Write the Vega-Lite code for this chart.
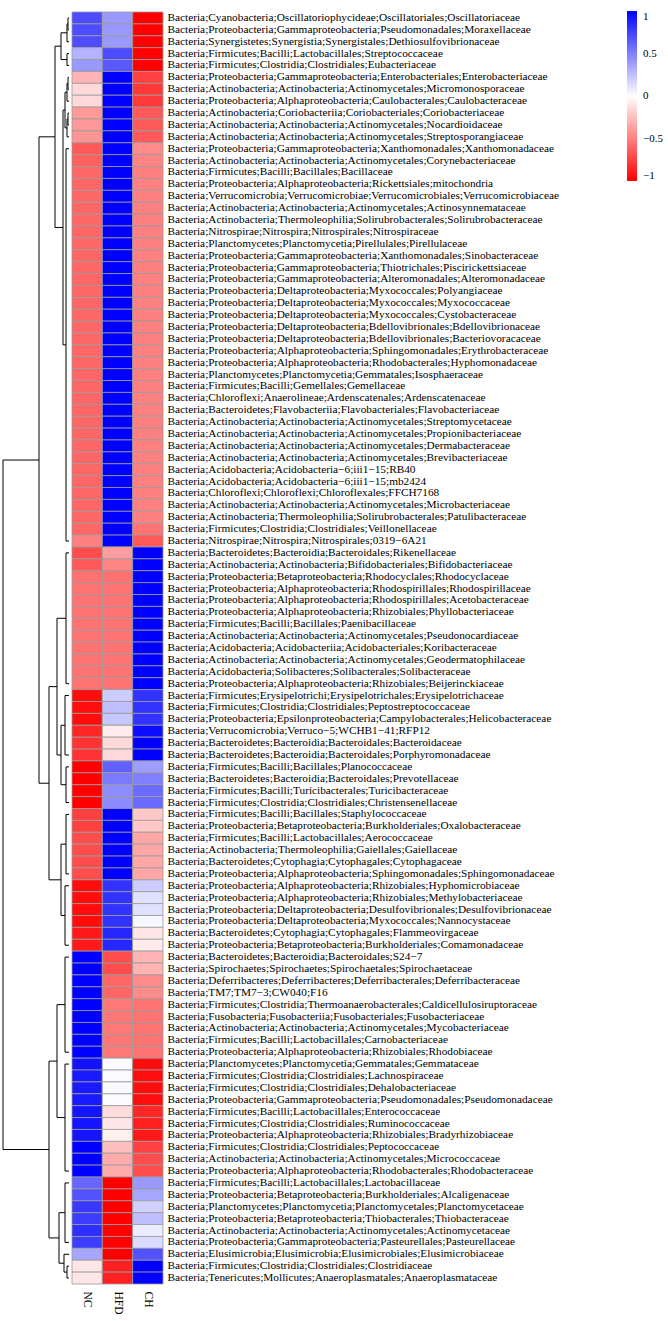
{
  "$schema": "https://vega.github.io/schema/vega-lite/v6.json",
  "padding": {"top": 11, "left": 2, "right": 0, "bottom": 0},
  "spacing": 1,
  "config": {"view": {"stroke": null}},
  "datasets": {
    "cells": [
      {"t": "Bacteria;Cyanobacteria;Oscillatoriophycideae;Oscillatoriales;Oscillatoriaceae", "NC": 0.7, "HFD": 0.4, "CH": -1},
      {"t": "Bacteria;Proteobacteria;Gammaproteobacteria;Pseudomonadales;Moraxellaceae", "NC": 0.7, "HFD": 0.4, "CH": -1},
      {"t": "Bacteria;Synergistetes;Synergistia;Synergistales;Dethiosulfovibrionaceae", "NC": 0.7, "HFD": 0.4, "CH": -1},
      {"t": "Bacteria;Firmicutes;Bacilli;Lactobacillales;Streptococcaceae", "NC": 0.3, "HFD": 0.7, "CH": -1},
      {"t": "Bacteria;Firmicutes;Clostridia;Clostridiales;Eubacteriaceae", "NC": 0.4, "HFD": 0.65, "CH": -1},
      {"t": "Bacteria;Proteobacteria;Gammaproteobacteria;Enterobacteriales;Enterobacteriaceae", "NC": -0.3, "HFD": 1, "CH": -0.75},
      {"t": "Bacteria;Actinobacteria;Actinobacteria;Actinomycetales;Micromonosporaceae", "NC": -0.15, "HFD": 1, "CH": -0.78},
      {"t": "Bacteria;Proteobacteria;Alphaproteobacteria;Caulobacterales;Caulobacteraceae", "NC": -0.15, "HFD": 1, "CH": -0.78},
      {"t": "Bacteria;Actinobacteria;Coriobacteriia;Coriobacteriales;Coriobacteriaceae", "NC": -0.4, "HFD": 1, "CH": -0.65},
      {"t": "Bacteria;Actinobacteria;Actinobacteria;Actinomycetales;Nocardioidaceae", "NC": -0.4, "HFD": 1, "CH": -0.65},
      {"t": "Bacteria;Actinobacteria;Actinobacteria;Actinomycetales;Streptosporangiaceae", "NC": -0.42, "HFD": 1, "CH": -0.65},
      {"t": "Bacteria;Proteobacteria;Gammaproteobacteria;Xanthomonadales;Xanthomonadaceae", "NC": -0.65, "HFD": 1, "CH": -0.45},
      {"t": "Bacteria;Actinobacteria;Actinobacteria;Actinomycetales;Corynebacteriaceae", "NC": -0.62, "HFD": 1, "CH": -0.48},
      {"t": "Bacteria;Firmicutes;Bacilli;Bacillales;Bacillaceae", "NC": -0.6, "HFD": 1, "CH": -0.5},
      {"t": "Bacteria;Proteobacteria;Alphaproteobacteria;Rickettsiales;mitochondria", "NC": -0.6, "HFD": 1, "CH": -0.5},
      {"t": "Bacteria;Verrucomicrobia;Verrucomicrobiae;Verrucomicrobiales;Verrucomicrobiaceae", "NC": -0.6, "HFD": 1, "CH": -0.5},
      {"t": "Bacteria;Actinobacteria;Actinobacteria;Actinomycetales;Actinosynnemataceae", "NC": -0.6, "HFD": 1, "CH": -0.5},
      {"t": "Bacteria;Actinobacteria;Thermoleophilia;Solirubrobacterales;Solirubrobacteraceae", "NC": -0.6, "HFD": 1, "CH": -0.5},
      {"t": "Bacteria;Nitrospirae;Nitrospira;Nitrospirales;Nitrospiraceae", "NC": -0.6, "HFD": 1, "CH": -0.5},
      {"t": "Bacteria;Planctomycetes;Planctomycetia;Pirellulales;Pirellulaceae", "NC": -0.6, "HFD": 1, "CH": -0.5},
      {"t": "Bacteria;Proteobacteria;Gammaproteobacteria;Xanthomonadales;Sinobacteraceae", "NC": -0.6, "HFD": 1, "CH": -0.5},
      {"t": "Bacteria;Proteobacteria;Gammaproteobacteria;Thiotrichales;Piscirickettsiaceae", "NC": -0.6, "HFD": 1, "CH": -0.5},
      {"t": "Bacteria;Proteobacteria;Gammaproteobacteria;Alteromonadales;Alteromonadaceae", "NC": -0.6, "HFD": 1, "CH": -0.5},
      {"t": "Bacteria;Proteobacteria;Deltaproteobacteria;Myxococcales;Polyangiaceae", "NC": -0.6, "HFD": 1, "CH": -0.5},
      {"t": "Bacteria;Proteobacteria;Deltaproteobacteria;Myxococcales;Myxococcaceae", "NC": -0.6, "HFD": 1, "CH": -0.5},
      {"t": "Bacteria;Proteobacteria;Deltaproteobacteria;Myxococcales;Cystobacteraceae", "NC": -0.6, "HFD": 1, "CH": -0.5},
      {"t": "Bacteria;Proteobacteria;Deltaproteobacteria;Bdellovibrionales;Bdellovibrionaceae", "NC": -0.6, "HFD": 1, "CH": -0.5},
      {"t": "Bacteria;Proteobacteria;Deltaproteobacteria;Bdellovibrionales;Bacteriovoracaceae", "NC": -0.6, "HFD": 1, "CH": -0.5},
      {"t": "Bacteria;Proteobacteria;Alphaproteobacteria;Sphingomonadales;Erythrobacteraceae", "NC": -0.6, "HFD": 1, "CH": -0.5},
      {"t": "Bacteria;Proteobacteria;Alphaproteobacteria;Rhodobacterales;Hyphomonadaceae", "NC": -0.6, "HFD": 1, "CH": -0.5},
      {"t": "Bacteria;Planctomycetes;Planctomycetia;Gemmatales;Isosphaeraceae", "NC": -0.6, "HFD": 1, "CH": -0.5},
      {"t": "Bacteria;Firmicutes;Bacilli;Gemellales;Gemellaceae", "NC": -0.6, "HFD": 1, "CH": -0.5},
      {"t": "Bacteria;Chloroflexi;Anaerolineae;Ardenscatenales;Ardenscatenaceae", "NC": -0.6, "HFD": 1, "CH": -0.5},
      {"t": "Bacteria;Bacteroidetes;Flavobacteriia;Flavobacteriales;Flavobacteriaceae", "NC": -0.6, "HFD": 1, "CH": -0.5},
      {"t": "Bacteria;Actinobacteria;Actinobacteria;Actinomycetales;Streptomycetaceae", "NC": -0.6, "HFD": 1, "CH": -0.5},
      {"t": "Bacteria;Actinobacteria;Actinobacteria;Actinomycetales;Propionibacteriaceae", "NC": -0.6, "HFD": 1, "CH": -0.5},
      {"t": "Bacteria;Actinobacteria;Actinobacteria;Actinomycetales;Dermabacteraceae", "NC": -0.6, "HFD": 1, "CH": -0.5},
      {"t": "Bacteria;Actinobacteria;Actinobacteria;Actinomycetales;Brevibacteriaceae", "NC": -0.6, "HFD": 1, "CH": -0.5},
      {"t": "Bacteria;Acidobacteria;Acidobacteria−6;iii1−15;RB40", "NC": -0.6, "HFD": 1, "CH": -0.5},
      {"t": "Bacteria;Acidobacteria;Acidobacteria−6;iii1−15;mb2424", "NC": -0.6, "HFD": 1, "CH": -0.5},
      {"t": "Bacteria;Chloroflexi;Chloroflexi;Chloroflexales;FFCH7168", "NC": -0.6, "HFD": 1, "CH": -0.5},
      {"t": "Bacteria;Actinobacteria;Actinobacteria;Actinomycetales;Microbacteriaceae", "NC": -0.6, "HFD": 1, "CH": -0.5},
      {"t": "Bacteria;Actinobacteria;Thermoleophilia;Solirubrobacterales;Patulibacteraceae", "NC": -0.6, "HFD": 1, "CH": -0.5},
      {"t": "Bacteria;Firmicutes;Clostridia;Clostridiales;Veillonellaceae", "NC": -0.6, "HFD": 1, "CH": -0.55},
      {"t": "Bacteria;Nitrospirae;Nitrospira;Nitrospirales;0319−6A21", "NC": -0.5, "HFD": 1, "CH": -0.65},
      {"t": "Bacteria;Bacteroidetes;Bacteroidia;Bacteroidales;Rikenellaceae", "NC": -0.7, "HFD": -0.38, "CH": 1},
      {"t": "Bacteria;Actinobacteria;Actinobacteria;Bifidobacteriales;Bifidobacteriaceae", "NC": -0.65, "HFD": -0.48, "CH": 1},
      {"t": "Bacteria;Proteobacteria;Betaproteobacteria;Rhodocyclales;Rhodocyclaceae", "NC": -0.56, "HFD": -0.56, "CH": 1},
      {"t": "Bacteria;Proteobacteria;Alphaproteobacteria;Rhodospirillales;Rhodospirillaceae", "NC": -0.55, "HFD": -0.55, "CH": 1},
      {"t": "Bacteria;Proteobacteria;Alphaproteobacteria;Rhodospirillales;Acetobacteraceae", "NC": -0.55, "HFD": -0.55, "CH": 1},
      {"t": "Bacteria;Proteobacteria;Alphaproteobacteria;Rhizobiales;Phyllobacteriaceae", "NC": -0.55, "HFD": -0.55, "CH": 1},
      {"t": "Bacteria;Firmicutes;Bacilli;Bacillales;Paenibacillaceae", "NC": -0.55, "HFD": -0.55, "CH": 1},
      {"t": "Bacteria;Actinobacteria;Actinobacteria;Actinomycetales;Pseudonocardiaceae", "NC": -0.55, "HFD": -0.55, "CH": 1},
      {"t": "Bacteria;Acidobacteria;Acidobacteriia;Acidobacteriales;Koribacteraceae", "NC": -0.55, "HFD": -0.55, "CH": 1},
      {"t": "Bacteria;Actinobacteria;Actinobacteria;Actinomycetales;Geodermatophilaceae", "NC": -0.55, "HFD": -0.55, "CH": 1},
      {"t": "Bacteria;Acidobacteria;Solibacteres;Solibacterales;Solibacteraceae", "NC": -0.55, "HFD": -0.55, "CH": 1},
      {"t": "Bacteria;Proteobacteria;Alphaproteobacteria;Rhizobiales;Beijerinckiaceae", "NC": -0.55, "HFD": -0.55, "CH": 1},
      {"t": "Bacteria;Firmicutes;Erysipelotrichi;Erysipelotrichales;Erysipelotrichaceae", "NC": -0.95, "HFD": 0.2, "CH": 0.8},
      {"t": "Bacteria;Firmicutes;Clostridia;Clostridiales;Peptostreptococcaceae", "NC": -0.95, "HFD": 0.25, "CH": 0.8},
      {"t": "Bacteria;Proteobacteria;Epsilonproteobacteria;Campylobacterales;Helicobacteraceae", "NC": -0.95, "HFD": 0.22, "CH": 0.8},
      {"t": "Bacteria;Verrucomicrobia;Verruco−5;WCHB1−41;RFP12", "NC": -0.85, "HFD": -0.08, "CH": 0.95},
      {"t": "Bacteria;Bacteroidetes;Bacteroidia;Bacteroidales;Bacteroidaceae", "NC": -0.8, "HFD": -0.15, "CH": 1},
      {"t": "Bacteria;Bacteroidetes;Bacteroidia;Bacteroidales;Porphyromonadaceae", "NC": -0.8, "HFD": -0.15, "CH": 1},
      {"t": "Bacteria;Firmicutes;Bacilli;Bacillales;Planococcaceae", "NC": -1, "HFD": 0.62, "CH": 0.38},
      {"t": "Bacteria;Bacteroidetes;Bacteroidia;Bacteroidales;Prevotellaceae", "NC": -1, "HFD": 0.52, "CH": 0.5},
      {"t": "Bacteria;Firmicutes;Bacilli;Turicibacterales;Turicibacteraceae", "NC": -1, "HFD": 0.45, "CH": 0.58},
      {"t": "Bacteria;Firmicutes;Clostridia;Clostridiales;Christensenellaceae", "NC": -1, "HFD": 0.45, "CH": 0.58},
      {"t": "Bacteria;Firmicutes;Bacilli;Bacillales;Staphylococcaceae", "NC": -0.75, "HFD": 1, "CH": -0.22},
      {"t": "Bacteria;Proteobacteria;Betaproteobacteria;Burkholderiales;Oxalobacteraceae", "NC": -0.75, "HFD": 1, "CH": -0.22},
      {"t": "Bacteria;Firmicutes;Bacilli;Lactobacillales;Aerococcaceae", "NC": -0.7, "HFD": 1, "CH": -0.35},
      {"t": "Bacteria;Actinobacteria;Thermoleophilia;Gaiellales;Gaiellaceae", "NC": -0.7, "HFD": 1, "CH": -0.35},
      {"t": "Bacteria;Bacteroidetes;Cytophagia;Cytophagales;Cytophagaceae", "NC": -0.7, "HFD": 1, "CH": -0.35},
      {"t": "Bacteria;Proteobacteria;Alphaproteobacteria;Sphingomonadales;Sphingomonadaceae", "NC": -0.7, "HFD": 1, "CH": -0.35},
      {"t": "Bacteria;Proteobacteria;Alphaproteobacteria;Rhizobiales;Hyphomicrobiaceae", "NC": -0.95, "HFD": 0.8, "CH": 0.2},
      {"t": "Bacteria;Proteobacteria;Alphaproteobacteria;Rhizobiales;Methylobacteriaceae", "NC": -0.95, "HFD": 0.8, "CH": 0.12},
      {"t": "Bacteria;Proteobacteria;Deltaproteobacteria;Desulfovibrionales;Desulfovibrionaceae", "NC": -0.95, "HFD": 0.8, "CH": 0.12},
      {"t": "Bacteria;Proteobacteria;Deltaproteobacteria;Myxococcales;Nannocystaceae", "NC": -0.95, "HFD": 0.8, "CH": 0.03},
      {"t": "Bacteria;Bacteroidetes;Cytophagia;Cytophagales;Flammeovirgaceae", "NC": -0.9, "HFD": 0.85, "CH": -0.1},
      {"t": "Bacteria;Proteobacteria;Betaproteobacteria;Burkholderiales;Comamonadaceae", "NC": -0.9, "HFD": 0.85, "CH": -0.08},
      {"t": "Bacteria;Bacteroidetes;Bacteroidia;Bacteroidales;S24−7", "NC": 1, "HFD": -0.7, "CH": -0.3},
      {"t": "Bacteria;Spirochaetes;Spirochaetes;Spirochaetales;Spirochaetaceae", "NC": 1, "HFD": -0.7, "CH": -0.3},
      {"t": "Bacteria;Deferribacteres;Deferribacteres;Deferribacterales;Deferribacteraceae", "NC": 1, "HFD": -0.6, "CH": -0.45},
      {"t": "Bacteria;TM7;TM7−3;CW040;F16", "NC": 1, "HFD": -0.6, "CH": -0.45},
      {"t": "Bacteria;Firmicutes;Clostridia;Thermoanaerobacterales;Caldicellulosiruptoraceae", "NC": 1, "HFD": -0.53, "CH": -0.55},
      {"t": "Bacteria;Fusobacteria;Fusobacteriia;Fusobacteriales;Fusobacteriaceae", "NC": 1, "HFD": -0.53, "CH": -0.55},
      {"t": "Bacteria;Actinobacteria;Actinobacteria;Actinomycetales;Mycobacteriaceae", "NC": 1, "HFD": -0.53, "CH": -0.55},
      {"t": "Bacteria;Firmicutes;Bacilli;Lactobacillales;Carnobacteriaceae", "NC": 1, "HFD": -0.53, "CH": -0.55},
      {"t": "Bacteria;Proteobacteria;Alphaproteobacteria;Rhizobiales;Rhodobiaceae", "NC": 1, "HFD": -0.53, "CH": -0.55},
      {"t": "Bacteria;Planctomycetes;Planctomycetia;Gemmatales;Gemmataceae", "NC": 0.93, "HFD": 0.02, "CH": -0.95},
      {"t": "Bacteria;Firmicutes;Clostridia;Clostridiales;Lachnospiraceae", "NC": 0.9, "HFD": 0.02, "CH": -0.95},
      {"t": "Bacteria;Firmicutes;Clostridia;Clostridiales;Dehalobacteriaceae", "NC": 0.9, "HFD": 0.02, "CH": -0.95},
      {"t": "Bacteria;Proteobacteria;Gammaproteobacteria;Pseudomonadales;Pseudomonadaceae", "NC": 0.9, "HFD": 0.02, "CH": -0.95},
      {"t": "Bacteria;Firmicutes;Bacilli;Lactobacillales;Enterococcaceae", "NC": 0.92, "HFD": -0.14, "CH": -0.85},
      {"t": "Bacteria;Firmicutes;Clostridia;Clostridiales;Ruminococcaceae", "NC": 0.92, "HFD": -0.1, "CH": -0.88},
      {"t": "Bacteria;Proteobacteria;Alphaproteobacteria;Rhizobiales;Bradyrhizobiaceae", "NC": 0.92, "HFD": -0.06, "CH": -0.9},
      {"t": "Bacteria;Firmicutes;Clostridia;Clostridiales;Peptococcaceae", "NC": 1, "HFD": -0.25, "CH": -0.75},
      {"t": "Bacteria;Actinobacteria;Actinobacteria;Actinomycetales;Micrococcaceae", "NC": 1, "HFD": -0.33, "CH": -0.7},
      {"t": "Bacteria;Proteobacteria;Alphaproteobacteria;Rhodobacterales;Rhodobacteraceae", "NC": 1, "HFD": -0.33, "CH": -0.7},
      {"t": "Bacteria;Firmicutes;Bacilli;Lactobacillales;Lactobacillaceae", "NC": 0.6, "HFD": -1, "CH": 0.4},
      {"t": "Bacteria;Proteobacteria;Betaproteobacteria;Burkholderiales;Alcaligenaceae", "NC": 0.68, "HFD": -1, "CH": 0.35},
      {"t": "Bacteria;Planctomycetes;Planctomycetia;Planctomycetales;Planctomycetaceae", "NC": 0.78, "HFD": -1, "CH": 0.18},
      {"t": "Bacteria;Proteobacteria;Betaproteobacteria;Thiobacterales;Thiobacteraceae", "NC": 0.76, "HFD": -1, "CH": 0.25},
      {"t": "Bacteria;Actinobacteria;Actinobacteria;Actinomycetales;Actinomycetaceae", "NC": 0.82, "HFD": -1, "CH": 0.07},
      {"t": "Bacteria;Proteobacteria;Gammaproteobacteria;Pasteurellales;Pasteurellaceae", "NC": 0.76, "HFD": -1, "CH": 0.14},
      {"t": "Bacteria;Elusimicrobia;Elusimicrobia;Elusimicrobiales;Elusimicrobiaceae", "NC": 0.35, "HFD": -1, "CH": 0.68},
      {"t": "Bacteria;Firmicutes;Clostridia;Clostridiales;Clostridiaceae", "NC": -0.1, "HFD": -0.87, "CH": 1},
      {"t": "Bacteria;Tenericutes;Mollicutes;Anaeroplasmatales;Anaeroplasmataceae", "NC": -0.1, "HFD": -0.87, "CH": 1}
    ],
    "tree": [
      {"h": 1, "yl": 0.5, "yr": 1.5, "hl": 0, "hr": 0},
      {"h": 2, "yl": 1.0, "yr": 2.5, "hl": 1, "hr": 0},
      {"h": 2, "yl": 3.5, "yr": 4.5, "hl": 0, "hr": 0},
      {"h": 8, "yl": 1.75, "yr": 4.0, "hl": 2, "hr": 2},
      {"h": 1, "yl": 5.5, "yr": 6.5, "hl": 0, "hr": 0},
      {"h": 2, "yl": 6.0, "yr": 7.5, "hl": 1, "hr": 0},
      {"h": 1, "yl": 8.5, "yr": 9.5, "hl": 0, "hr": 0},
      {"h": 2, "yl": 9.0, "yr": 10.5, "hl": 1, "hr": 0},
      {"h": 4, "yl": 6.75, "yr": 9.75, "hl": 2, "hr": 2},
      {"h": 3, "yl": 11.5, "yr": 44.5, "hl": 0, "hr": 0},
      {"h": 6, "yl": 8.25, "yr": 28, "hl": 4, "hr": 3},
      {"h": 14, "yl": 2.875, "yr": 18.125, "hl": 8, "hr": 6},
      {"h": 3, "yl": 45.5, "yr": 56.5, "hl": 0, "hr": 0},
      {"h": 4, "yl": 57.5, "yr": 62.5, "hl": 0, "hr": 0},
      {"h": 3, "yl": 63.5, "yr": 66.5, "hl": 0, "hr": 0},
      {"h": 8, "yl": 60, "yr": 65, "hl": 4, "hr": 3},
      {"h": 12, "yl": 51, "yr": 62.5, "hl": 3, "hr": 8},
      {"h": 3, "yl": 67.5, "yr": 72.5, "hl": 0, "hr": 0},
      {"h": 4, "yl": 73.5, "yr": 78.5, "hl": 0, "hr": 0},
      {"h": 8, "yl": 70, "yr": 76, "hl": 3, "hr": 4},
      {"h": 20, "yl": 56.75, "yr": 73, "hl": 12, "hr": 8},
      {"h": 30, "yl": 10.5, "yr": 64.875, "hl": 14, "hr": 20},
      {"h": 4, "yl": 79.5, "yr": 87.5, "hl": 0, "hr": 0},
      {"h": 4, "yl": 88.5, "yr": 97.5, "hl": 0, "hr": 0},
      {"h": 12, "yl": 83.5, "yr": 93, "hl": 4, "hr": 4},
      {"h": 4, "yl": 98.5, "yr": 103.5, "hl": 0, "hr": 0},
      {"h": 2, "yl": 105.5, "yr": 106.5, "hl": 0, "hr": 0},
      {"h": 5, "yl": 104.5, "yr": 106, "hl": 0, "hr": 2},
      {"h": 10, "yl": 101, "yr": 105.25, "hl": 4, "hr": 5},
      {"h": 20, "yl": 88.25, "yr": 103.125, "hl": 12, "hr": 10},
      {"h": 66, "yl": 37.6875, "yr": 95.6875, "hl": 30, "hr": 20}
    ]
  },
  "hconcat": [
    {
      "width": 66,
      "height": 1272,
      "data": {"name": "tree"},
      "encoding": {},
      "layer": [
        {
          "mark": {"type": "rule", "color": "#000000", "strokeWidth": 1},
          "encoding": {
            "x": {"field": "h", "type": "quantitative", "scale": {"domain": [0, 66], "reverse": true, "nice": false, "zero": false}, "axis": null},
            "y": {"field": "yl", "type": "quantitative", "scale": {"domain": [0, 107], "reverse": true, "nice": false, "zero": false}, "axis": null},
            "y2": {"field": "yr"}
          }
        },
        {
          "mark": {"type": "rule", "color": "#000000", "strokeWidth": 1},
          "encoding": {
            "x": {"field": "hl", "type": "quantitative", "scale": {"domain": [0, 66], "reverse": true, "nice": false, "zero": false}, "axis": null},
            "x2": {"field": "h"},
            "y": {"field": "yl", "type": "quantitative", "scale": {"domain": [0, 107], "reverse": true, "nice": false, "zero": false}, "axis": null}
          }
        },
        {
          "mark": {"type": "rule", "color": "#000000", "strokeWidth": 1},
          "encoding": {
            "x": {"field": "hr", "type": "quantitative", "scale": {"domain": [0, 66], "reverse": true, "nice": false, "zero": false}, "axis": null},
            "x2": {"field": "h"},
            "y": {"field": "yr", "type": "quantitative", "scale": {"domain": [0, 107], "reverse": true, "nice": false, "zero": false}, "axis": null}
          }
        }
      ]
    },
    {
      "width": 91,
      "height": 1272,
      "data": {"name": "cells"},
      "transform": [{"fold": ["NC", "HFD", "CH"], "as": ["grp", "val"]}],
      "mark": {"type": "rect", "stroke": "#9a9a9a", "strokeWidth": 0.8},
      "encoding": {
        "x": {
          "field": "grp", "type": "nominal", "sort": ["NC", "HFD", "CH"],
          "scale": {"paddingInner": 0, "paddingOuter": 0},
          "axis": {"orient": "bottom", "title": null, "domain": false, "ticks": false, "labelAngle": 90, "labelAlign": "left", "labelBaseline": "middle", "labelPadding": 7, "labelFont": "Liberation Serif", "labelFontSize": 11.5, "labelColor": "#000000"}
        },
        "y": {
          "field": "t", "type": "nominal", "sort": null,
          "scale": {"paddingInner": 0, "paddingOuter": 0},
          "axis": {"orient": "right", "title": null, "domain": false, "ticks": false, "labelPadding": 4, "labelLimit": 1000, "labelFont": "Liberation Serif", "labelFontSize": 11.3, "labelColor": "#000000", "labelBaseline": "middle"}
        },
        "color": {
          "field": "val", "type": "quantitative",
          "scale": {"domain": [-1, 0, 1], "range": ["#ff0000", "#ffffff", "#0000ff"], "interpolate": "rgb"},
          "legend": {"orient": "none", "legendX": 624, "legendY": -1, "title": null, "direction": "vertical", "gradientLength": 170, "gradientThickness": 10, "gradientStrokeWidth": 0, "values": [1, 0.5, 0, -0.5, -1], "format": "~g", "labelFont": "Liberation Serif", "labelFontSize": 11, "labelColor": "#000000", "labelOffset": 6}
        }
      }
    }
  ]
}
